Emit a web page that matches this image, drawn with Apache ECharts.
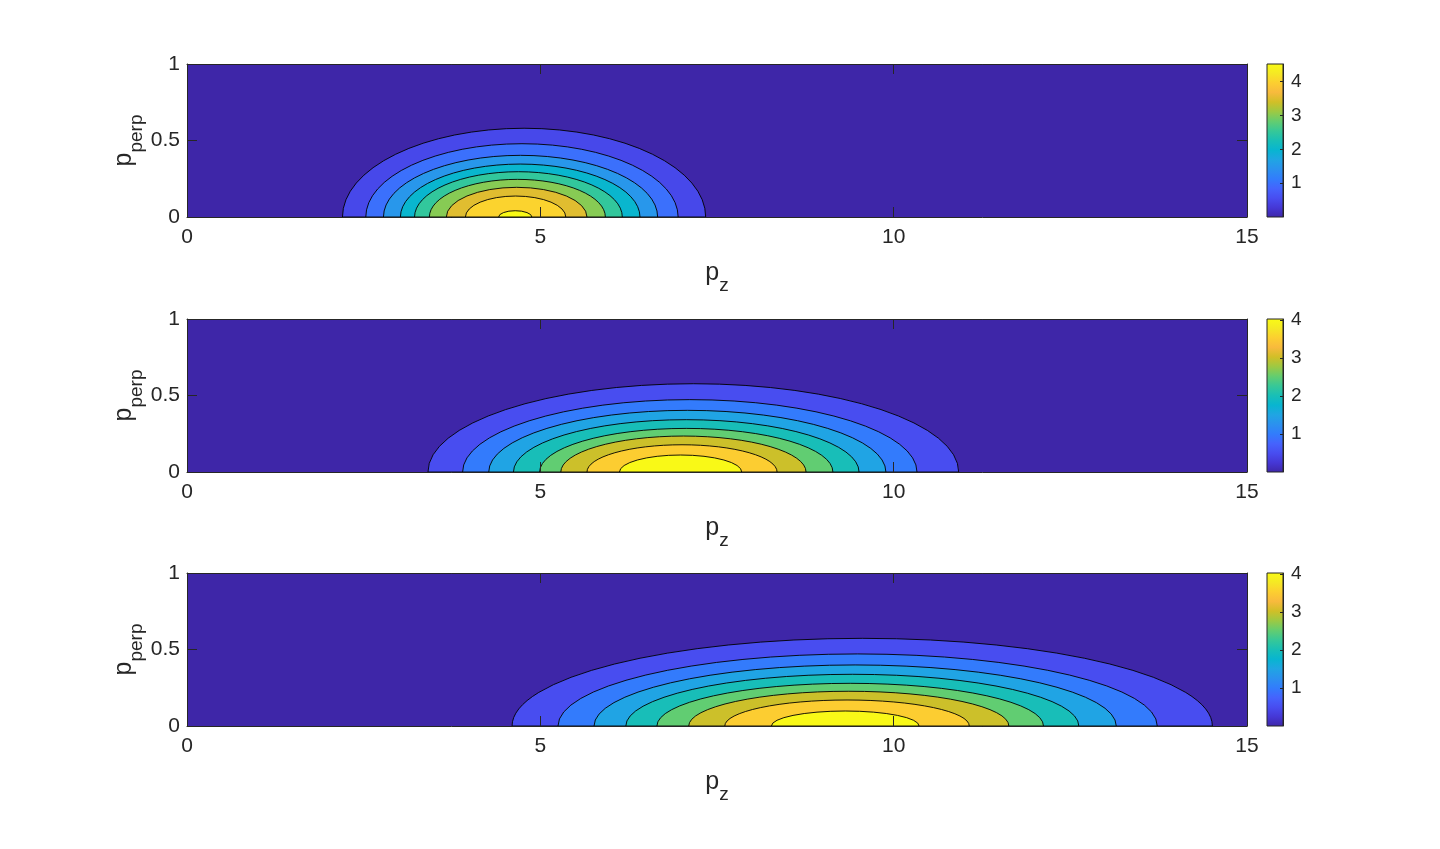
<!DOCTYPE html>
<html>
<head>
<meta charset="utf-8">
<title>p_perp / p_z contours</title>
<script src="https://cdn.jsdelivr.net/npm/echarts@6/dist/echarts.min.js"></script>
<style>
    html, body { margin: 0; padding: 0; background: #fff; }
    #chart { width: 1440px; height: 849px; }
</style>
</head>
<body>
<div id="chart"></div>
<script>
// contour levels, outer -> inner
var levels1 = [0.5, 1, 1.5, 2, 2.5, 3, 3.5, 4, 4.5];
var levels2 = [0.5, 1, 1.5, 2, 2.5, 3, 3.5, 4];
var levels3 = [0.5, 1, 1.5, 2, 2.5, 3, 3.5, 4];

// where each contour meets p_perp = 0 (left / right end) and its height
var left1  = [2.20, 2.53, 2.78, 3.02, 3.22, 3.43, 3.67, 3.94, 4.41];
var right1 = [7.34, 6.95, 6.66, 6.41, 6.16, 5.92, 5.66, 5.36, 4.88];
var top1   = [0.580, 0.479, 0.403, 0.346, 0.296, 0.246, 0.194, 0.137, 0.041];

var left2  = [3.41, 3.90, 4.27, 4.62, 4.99, 5.29, 5.66, 6.12];
var right2 = [10.92, 10.33, 9.89, 9.51, 9.14, 8.76, 8.35, 7.85];
var top2   = [0.577, 0.473, 0.403, 0.342, 0.285, 0.235, 0.178, 0.111];

var left3  = [4.60, 5.25, 5.76, 6.21, 6.65, 7.10, 7.61, 8.27];
var right3 = [14.51, 13.73, 13.15, 12.62, 12.12, 11.63, 11.07, 10.36];
var top3   = [0.573, 0.471, 0.399, 0.338, 0.279, 0.227, 0.170, 0.098];

// colour limits of each colorbar
var clim1 = [0, 4.52];
var clim2 = [0, 4.03];
var clim3 = [0, 4.03];
var cbarTicks = [1, 2, 3, 4];

var pzRange = [0, 15];
var pperpRange = [0, 1];

// parula
var parula = ['#3E26A8', '#4537D5', '#484DF0', '#4563FD', '#327CFC', '#2B91EF', '#20A5E3',
    '#08B5D0', '#19BFB6', '#37C897', '#64CD6F', '#9DC943', '#D1BF27', '#F8BA3D',
    '#FCCF30', '#F5E924', '#F9FB15'];

var ink = '#262626';
var font = 'Liberation Sans';
var gridTops = [64, 319, 573];

var panels = [
    { levels: levels1, left: left1, right: right1, top: top1, clim: clim1 },
    { levels: levels2, left: left2, right: right2, top: top2, clim: clim2 },
    { levels: levels3, left: left3, right: right3, top: top3, clim: clim3 }
];

// p with a lowered subscript
var nameRich = {
    p: { fontSize: 25, height: 25, verticalAlign: 'top', color: ink, fontFamily: font },
    s: { fontSize: 19, height: 49, verticalAlign: 'top', color: ink, fontFamily: font }
};

function renderContour(params, api) {
    var l = api.value(0), r = api.value(1), h = api.value(2);
    var a = api.coord([l, 0]);
    var b = api.coord([r, 0]);
    var t = api.coord([(l + r) / 2, h]);
    var rx = (b[0] - a[0]) / 2;
    var ry = a[1] - t[1];
    return {
        type: 'path',
        shape: {
            pathData: 'M' + a[0] + ' ' + a[1] + ' A' + rx + ' ' + ry + ' 0 0 1 ' + b[0] + ' ' + b[1] + ' Z'
        },
        style: { fill: api.visual('color'), stroke: '#000', lineWidth: 0.9 }
    };
}

function axLine() {
    return { show: true, onZero: false, lineStyle: { color: ink, width: 1 } };
}
function tick(len) {
    return { show: true, inside: true, length: len, lineStyle: { color: ink, width: 1 } };
}

var grids = [], xAxes = [], yAxes = [], series = [], visualMaps = [];

var stops = parula.map(function (c, k) { return { offset: k / (parula.length - 1), color: c }; });

panels.forEach(function (p, i) {
    var top = gridTops[i];
    grids.push({ left: 187, top: top, width: 1060, height: 153, show: true,
        backgroundColor: parula[0], borderWidth: 0 });
    grids.push({ left: 1267, top: top, width: 16, height: 153, show: true,
        backgroundColor: new echarts.graphic.LinearGradient(0, 1, 0, 0, stops),
        borderColor: ink, borderWidth: 1 });

    var g = 2 * i;

    // bottom / top / colorbar x axes
    xAxes.push({
        gridIndex: g, type: 'value', position: 'bottom', min: pzRange[0], max: pzRange[1], interval: 5,
        axisLine: axLine(), axisTick: tick(10), splitLine: { show: false },
        axisLabel: { margin: 10, fontSize: 21, color: ink, fontFamily: font },
        name: '{p|p}{s|z}', nameLocation: 'middle', nameGap: 44, nameMoveOverlap: false,
        nameTextStyle: { rich: nameRich }, z: 10
    });
    xAxes.push({
        gridIndex: g, type: 'value', position: 'top', min: pzRange[0], max: pzRange[1], interval: 5,
        axisLine: axLine(), axisTick: tick(10), axisLabel: { show: false }, splitLine: { show: false }, z: 10
    });
    xAxes.push({ gridIndex: g + 1, type: 'value', min: 0, max: 1, show: false });

    // left / right / colorbar y axes
    yAxes.push({
        gridIndex: g, type: 'value', position: 'left', min: pperpRange[0], max: pperpRange[1], interval: 0.5,
        axisLine: axLine(), axisTick: tick(10), splitLine: { show: false },
        axisLabel: { margin: 7, fontSize: 21, color: ink, fontFamily: font },
        name: '{p|p}{s|perp}', nameLocation: 'middle', nameGap: 26, nameMoveOverlap: false,
        nameTextStyle: { rich: nameRich }, z: 10
    });
    yAxes.push({
        gridIndex: g, type: 'value', position: 'right', min: pperpRange[0], max: pperpRange[1], interval: 0.5,
        axisLine: axLine(), axisTick: tick(10), axisLabel: { show: false }, splitLine: { show: false }, z: 10
    });
    yAxes.push({
        gridIndex: g + 1, type: 'value', position: 'right', min: p.clim[0], max: p.clim[1], interval: 1,
        axisLine: axLine(),
        axisTick: { show: true, inside: true, length: 3, customValues: cbarTicks, lineStyle: { color: ink } },
        axisLabel: { margin: 8, fontSize: 19, color: ink, fontFamily: font, customValues: cbarTicks },
        splitLine: { show: false }, z: 10
    });

    series.push({
        type: 'custom',
        xAxisIndex: 3 * i, yAxisIndex: 3 * i,
        renderItem: renderContour,
        encode: { x: [0, 1], y: 2 },
        data: p.levels.map(function (lv, k) { return [p.left[k], p.right[k], p.top[k], lv]; }),
        z: 2
    });

    visualMaps.push({
        type: 'continuous', show: false, seriesIndex: i, dimension: 3,
        min: p.clim[0], max: p.clim[1], inRange: { color: parula }
    });
});

var chart = echarts.init(document.getElementById('chart'));
chart.setOption({
    animation: false,
    backgroundColor: '#fff',
    grid: grids,
    xAxis: xAxes,
    yAxis: yAxes,
    visualMap: visualMaps,
    series: series
});
</script>
</body>
</html>
